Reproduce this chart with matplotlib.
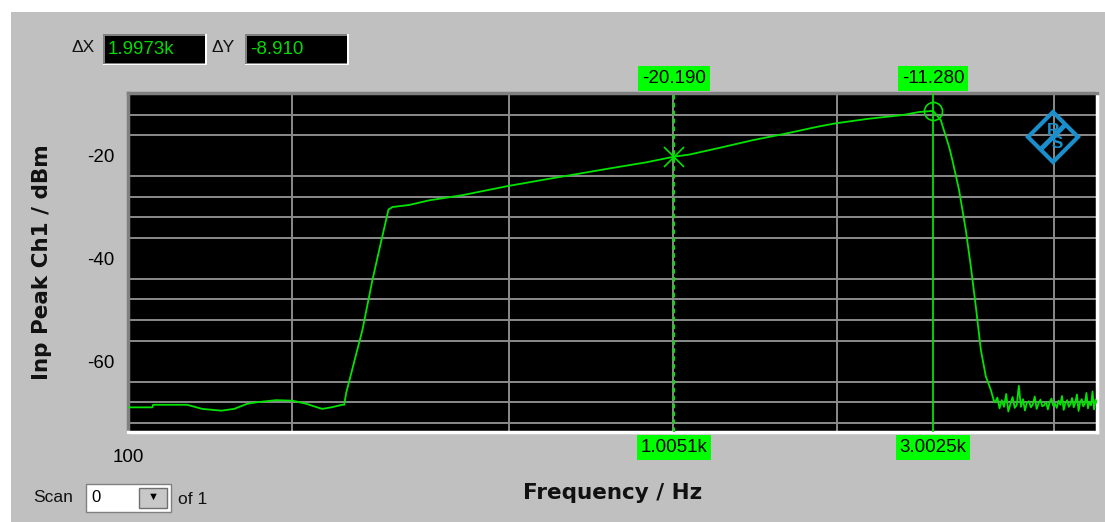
import numpy as np
import matplotlib.pyplot as plt
from matplotlib.patches import Rectangle, Polygon
from matplotlib.lines import Line2D
from matplotlib.ticker import FixedLocator, NullFormatter, FixedFormatter
import matplotlib.transforms as mtransforms

plt.rcParams['font.family'] = ['Liberation Sans', 'DejaVu Sans']
plt.rcParams['axes.unicode_minus'] = False

# Messkurve: Frequenz (Hz) und Pegel (dBm)
freq = [100, 110.8, 111.2, 128.4, 136.8, 148.3, 156.6, 165.5, 172.6, 187.0, 200.1,
        212.3, 222.5, 227.2, 236.0, 247.2, 249.3, 251.4, 269.3, 280.9, 289.0, 300.6,
        305.7, 328.1, 357.0, 410.5, 498.6, 585.5, 673.0, 773.6, 893.2, 1005.1,
        1070.7, 1215, 1399, 1611, 1855, 1990, 2291, 2637, 2829, 3002.5,
        3101, 3212, 3257, 3350, 3447, 3521, 3596, 3673, 3751, 3831, 3885]
level = [-69.0, -69.0, -68.5, -68.5, -69.3, -69.65, -69.3, -68.3, -68.0, -67.6, -67.7,
         -68.3, -69.0, -69.3, -69.0, -68.5, -68.5, -66.2, -53.9, -44.2, -38.4, -30.5,
         -30.0, -29.6, -28.7, -27.7, -25.9, -24.6, -23.5, -22.4, -21.3, -20.19,
         -19.8, -18.5, -17.0, -15.7, -14.3, -13.7, -12.8, -12.1, -11.5, -11.28,
         -13.1, -18.3, -20.9, -26.7, -34.5, -41.6, -49.4, -57.8, -63.0, -65.6, -67.9]

# Rauschboden oberhalb der Grenzfrequenz
noise_freq = [3900, 3938, 3975, 4012, 4050, 4088, 4125, 4162, 4200, 4238,
              4275, 4312, 4350, 4388, 4425, 4462, 4500, 4538, 4575, 4612,
              4650, 4688, 4725, 4762, 4800, 4838, 4875, 4912, 4950, 4988,
              5025, 5062, 5100, 5138, 5175, 5212, 5250, 5288, 5325, 5362,
              5400, 5438, 5475, 5512, 5550, 5588, 5625, 5662, 5700, 5738,
              5775, 5812, 5850, 5888, 5925, 5962, 6000]
noise_level = [-68.0, -67.1, -69.2, -67.6, -68.9, -66.4, -69.8, -68.3, -67.0, -69.1,
               -68.5, -64.8, -68.9, -67.4, -69.6, -68.1, -67.8, -69.0, -68.4, -66.9,
               -69.3, -68.2, -67.5, -68.8, -68.6, -67.9, -69.4, -68.0, -67.3, -68.7,
               -68.3, -69.1, -67.7, -68.5, -66.8, -69.5, -68.2, -67.6, -68.9, -68.4,
               -67.2, -69.0, -68.1, -66.5, -69.7, -68.0, -67.4, -68.8, -68.3, -66.2,
               -69.2, -67.9, -68.6, -65.9, -69.4, -67.5, -68.1]

# Marker
m1_freq, m1_level = 1005.1, -20.19
m2_freq, m2_level = 3002.5, -11.28
m1_xlabel, m1_ylabel = '1.0051k', '-20.190'
m2_xlabel, m2_ylabel = '3.0025k', '-11.280'
delta_x, delta_y = '1.9973k', '-8.910'

y_grid = list(range(-72, -7, 4))
y_ticks = [-60, -40, -20]
x_grid = [200, 500, 1000, 2000, 5000]

W, H = 1105, 522
GREEN = '#00e400'
BOXGREEN = '#00ff00'
BLUE = '#1a8fcc'


def px(x, y):
    return x / W, 1 - y / H


fig = plt.figure(figsize=(W / 100, H / 100), dpi=100)
fig.patch.set_facecolor('#c0c0c0')
# weisser Rand oben/links
fig.patches.append(Rectangle((0, 1 - 12 / H), 1, 12 / H, transform=fig.transFigure,
                             fc='white', ec='none', zorder=0))
fig.patches.append(Rectangle((0, 0), 11 / W, 1, transform=fig.transFigure,
                             fc='white', ec='none', zorder=0))

l, b = px(128, 432)
r, t = px(1097, 93)
ax = fig.add_axes([l, b, r - l, t - b])
ax.set_facecolor('black')

ax.plot(freq + noise_freq, level + noise_level, color=GREEN, lw=1.3, zorder=3)

ax.set_xscale('log')
ax.set_xlim(100, 6000)
ax.set_ylim(-73.8, -7.8)

ax.xaxis.set_major_locator(FixedLocator([100]))
ax.xaxis.set_major_formatter(FixedFormatter(['100']))
ax.xaxis.set_minor_locator(FixedLocator(x_grid))
ax.xaxis.set_minor_formatter(NullFormatter())
ax.yaxis.set_major_locator(FixedLocator(y_ticks))
ax.yaxis.set_minor_locator(FixedLocator(y_grid))
ax.grid(True, which='minor', color='#8a8a8a', lw=1.4, zorder=1)
ax.tick_params(which='both', length=0)
ax.tick_params(axis='x', which='major', pad=12, labelsize=13.5)
ax.tick_params(axis='y', which='major', pad=10, labelsize=13.5)

for side in ['left', 'top']:
    ax.spines[side].set_color('#808080')
    ax.spines[side].set_linewidth(2.5)
for side in ['right', 'bottom']:
    ax.spines[side].set_color('white')
    ax.spines[side].set_linewidth(2.5)

lab_font = dict(family='DejaVu Sans', fontsize=15.5, fontweight='bold', color='#111111')
ax.set_ylabel('Inp Peak Ch1 / dBm', va='center', **lab_font)
ax.yaxis.set_label_coords((42 - 128) / 969, 0.5)
ax.set_xlabel('Frequency / Hz', va='center', **lab_font)
ax.xaxis.set_label_coords(0.5, (432 - 493) / 339)

# Markerlinien
ax.axvline(m1_freq, color=GREEN, lw=1.5, ls=(0, (2.2, 1.6)), zorder=4)
ax.axvline(m2_freq, color=GREEN, lw=1.3, zorder=4)
ax.plot([m1_freq], [m1_level], marker='x', ms=15, mew=1.2, color=GREEN, zorder=5)
ax.plot([m2_freq], [m2_level], marker='o', ms=13, mew=1.2, mfc='none', mec=GREEN,
        zorder=5)

trans = mtransforms.blended_transform_factory(ax.transData, ax.transAxes)
box = dict(boxstyle='square,pad=0.2', fc=BOXGREEN, ec='none')
for f, ylab, xlab in [(m1_freq, m1_ylabel, m1_xlabel), (m2_freq, m2_ylabel, m2_xlabel)]:
    ax.text(f, 1.043, ylab, transform=trans, ha='center', va='center', fontsize=13.5,
            color='black', bbox=box, clip_on=False, zorder=6)
    ax.text(f, -0.046, xlab, transform=trans, ha='center', va='center', fontsize=13.5,
            color='black', bbox=box, clip_on=False, zorder=6)

# R&S Logo
cx, cy, d = 1053, 137, 25
pts = [px(cx, cy - d), px(cx + d, cy), px(cx, cy + d), px(cx - d, cy)]
fig.patches.append(Polygon(pts, closed=True, fill=False, ec=BLUE, lw=3,
                           transform=fig.transFigure, zorder=5))
fig.lines.append(Line2D(*zip(px(cx - 11, cy + 11), px(cx + 11, cy - 11)),
                        transform=fig.transFigure, color=BLUE, lw=3.5, zorder=5))
fig.text(*px(cx, cy), 'R\n  S', fontsize=12.5, fontweight='bold', color=BLUE,
         ha='center', va='center', linespacing=0.8, zorder=6)

# Delta-Anzeige oben links
for label, lx, bx0, bx1, val in [('ΔX', 72, 103, 205, delta_x),
                                 ('ΔY', 212, 245, 347, delta_y)]:
    fig.text(*px(lx, 48), label, fontsize=12.5, ha='left', va='center', color='#111111')
    fig.patches.append(Rectangle(px(bx0, 65), (bx1 - bx0 + 2) / W, 31 / H,
                                 transform=fig.transFigure, fc='white', ec='none'))
    fig.patches.append(Rectangle(px(bx0, 64), (bx1 - bx0) / W, 30 / H,
                                 transform=fig.transFigure, fc='#808080', ec='none'))
    fig.patches.append(Rectangle(px(bx0 + 2, 63), (bx1 - bx0 - 2) / W, 27 / H,
                                 transform=fig.transFigure, fc='black', ec='none'))
    fig.text(*px(bx0 + 5, 49), val, fontsize=13.5, ha='left', va='center', color='#00dd00')

# Scan-Auswahl unten links
fig.text(*px(33, 498), 'Scan', fontsize=12.5, ha='left', va='center', color='#111111')
fig.patches.append(Rectangle(px(86, 512), 85 / W, 28 / H, transform=fig.transFigure,
                             fc='white', ec='#808080', lw=1))
fig.text(*px(91, 497), '0', fontsize=12, ha='left', va='center', color='black')
fig.patches.append(Rectangle(px(139, 508), 28 / W, 20 / H, transform=fig.transFigure,
                             fc='#c8c8c8', ec='#707070', lw=1))
fig.text(*px(153, 497), '▼', fontsize=8, ha='center', va='center', color='black')
fig.text(*px(178, 499), 'of 1', fontsize=12.5, ha='left', va='center', color='#111111')

fig.savefig('out.png', dpi=100, facecolor=fig.get_facecolor())
